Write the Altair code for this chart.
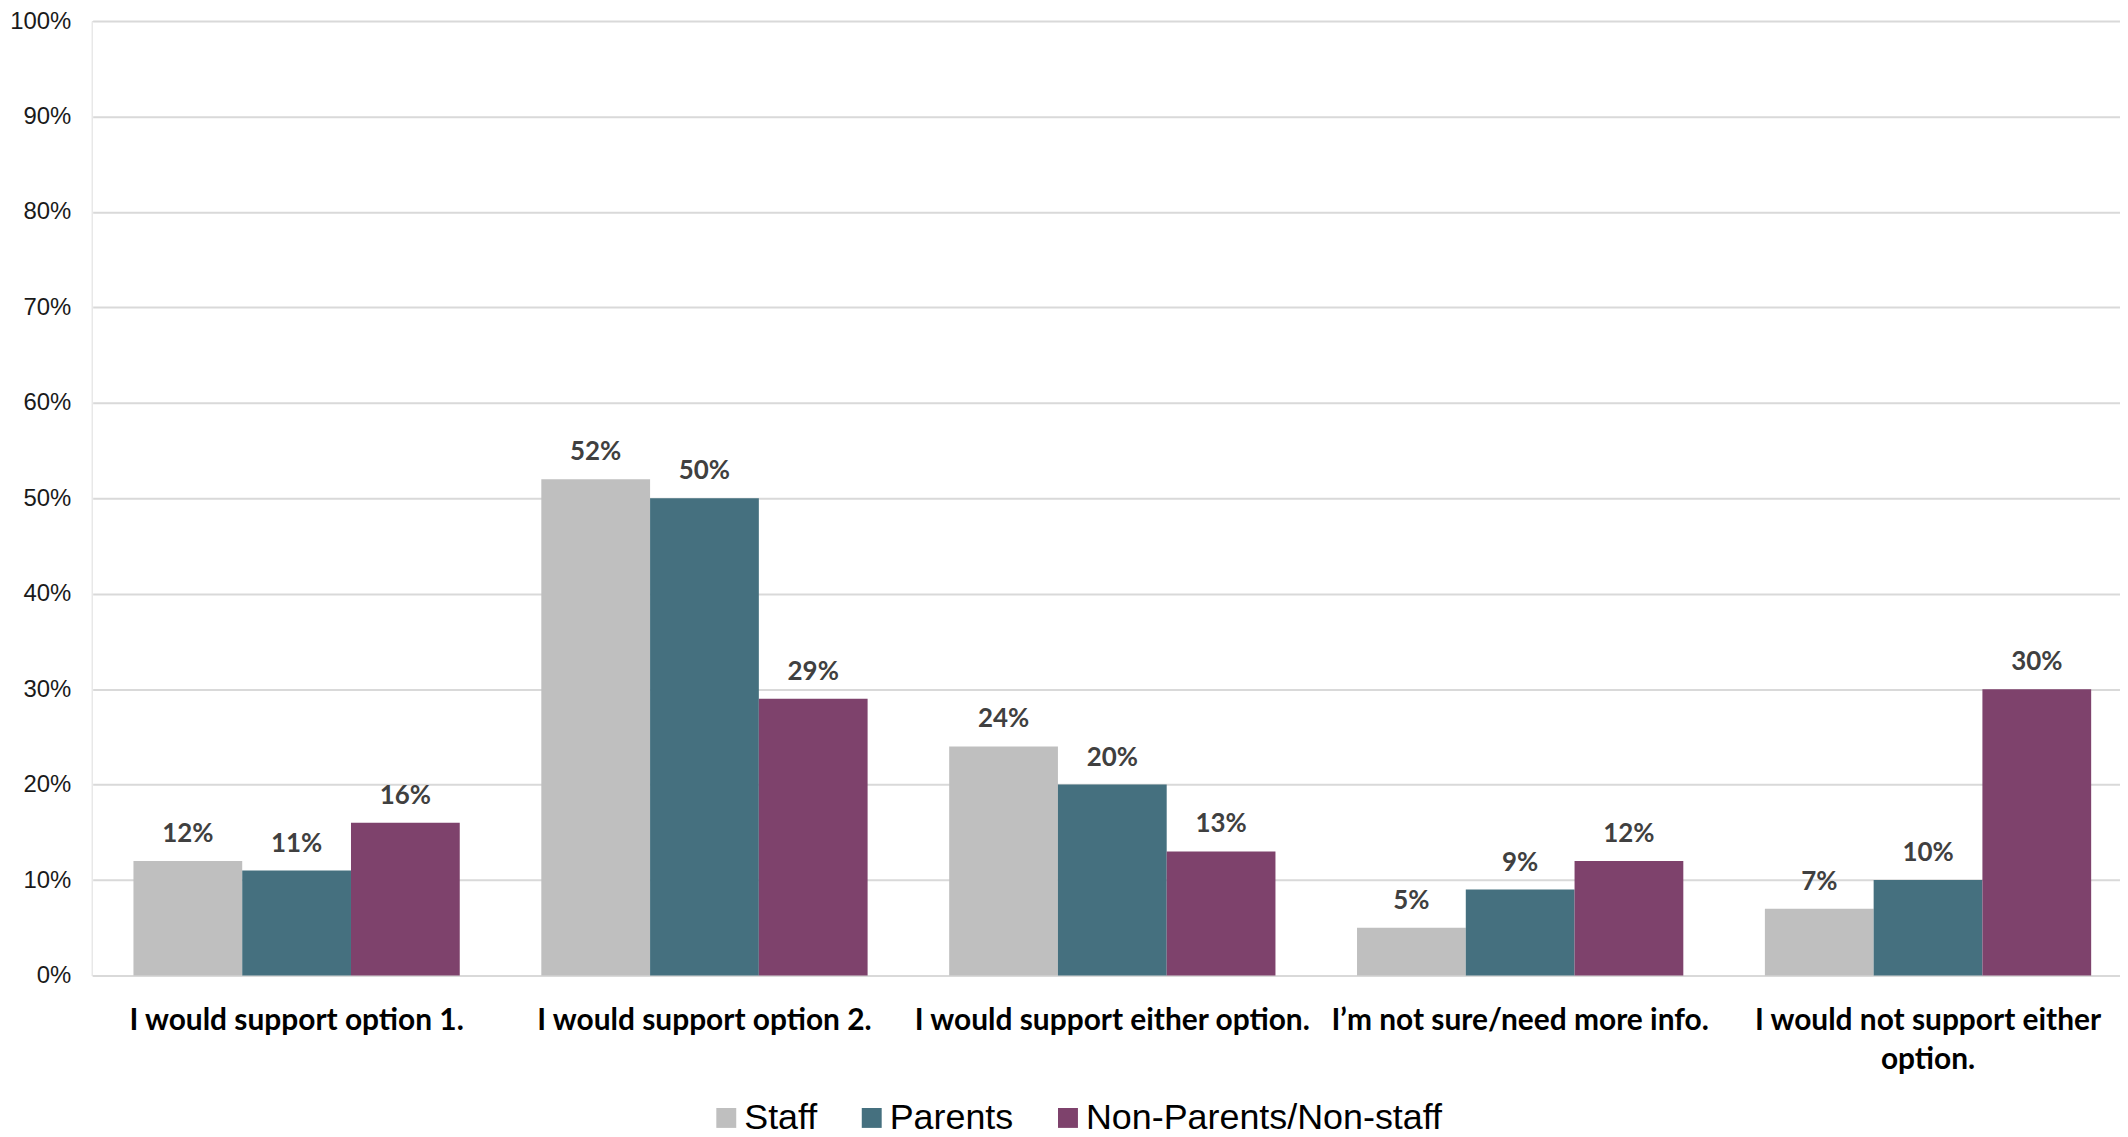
import altair as alt
import pandas as pd

categories = [
    "I would support option 1.",
    "I would support option 2.",
    "I would support either option.",
    "I\u2019m not sure/need more info.",
    "I would not support either option.",
]
groups = ["Staff", "Parents", "Non-Parents/Non-staff"]
staff = [12, 52, 24, 5, 7]
parents = [11, 50, 20, 9, 10]
non_parents = [16, 29, 13, 12, 30]
colors = ["#BFBFBF", "#45707F", "#7E426C"]
y_ticks = [0, 0.1, 0.2, 0.3, 0.4, 0.5, 0.6, 0.7, 0.8, 0.9, 1.0]

rows = []
for g, vals in zip(groups, [staff, parents, non_parents]):
    for c, v in zip(categories, vals):
        rows.append({"category": c, "group": g, "value": v / 100})
df = pd.DataFrame(rows)

x_enc = alt.X(
    "category:N",
    sort=categories,
    title=None,
    scale=alt.Scale(paddingInner=0.2, paddingOuter=0.1, range=[1, 2048]),
    axis=alt.Axis(
        labelAngle=0,
        labelFont="Lato",
        labelFontWeight="bold",
        labelFontSize=30,
        labelColor="#000000",
        labelPadding=30,
        labelBaseline="top",
        labelLineHeight=39,
        labelLimit=0,
        labelOverlap=False,
        labelBound=False,
        ticks=False,
        domain=True,
        domainColor="#D9D9D9",
        domainWidth=2,
        grid=False,
        labelExpr="length(datum.label) > 30 ? [substring(datum.label, 0, 26), substring(datum.label, 27)] : datum.label",
    ),
)
y_enc = alt.Y(
    "value:Q",
    title=None,
    scale=alt.Scale(domain=[0, 1], nice=False),
    axis=alt.Axis(
        values=y_ticks,
        format=".0%",
        labelFont="Liberation Sans",
        labelFontSize=24,
        labelColor="#1A1A1A",
        labelPadding=21,
        ticks=False,
        domain=False,
        grid=True,
        gridColor="#D9D9D9",
        gridWidth=2,
    ),
)
xoff = alt.XOffset("group:N", sort=groups, scale=alt.Scale(paddingInner=0, paddingOuter=0))

bars = alt.Chart(df).mark_bar().encode(
    x=x_enc,
    y=y_enc,
    xOffset=xoff,
    color=alt.Color(
        "group:N",
        sort=groups,
        scale=alt.Scale(domain=groups, range=colors),
        legend=alt.Legend(
            orient="none",
            legendX=619,
            legendY=1083,
            direction="horizontal",
            title=None,
            symbolType="square",
            symbolSize=400,
            symbolStrokeWidth=0,
            labelFont="Liberation Sans",
            labelFontSize=36,
            labelColor="#000000",
            labelOffset=0,
            columnPadding=36,
            labelLimit=0,
        ),
    ),
)

labels = alt.Chart(df).mark_text(
    dy=-19,
    baseline="alphabetic",
    font="Lato",
    fontWeight="bold",
    fontSize=26,
    color="#404040",
).encode(
    x=alt.X("category:N", sort=categories),
    y=alt.Y("value:Q"),
    xOffset=alt.XOffset("group:N", sort=groups),
    text=alt.Text("value:Q", format=".0%"),
)

chart = (
    alt.layer(bars, labels)
    .properties(
        width=2036,
        height=958,
        autosize=alt.AutoSizeParams(type="none"),
        padding={"left": 84, "top": 11, "right": 0, "bottom": 160},
    )
    .configure_view(stroke=None)
    .configure(background="#FFFFFF")
)

chart.save("out.html", embed_options={"renderer": "svg", "actions": False})
